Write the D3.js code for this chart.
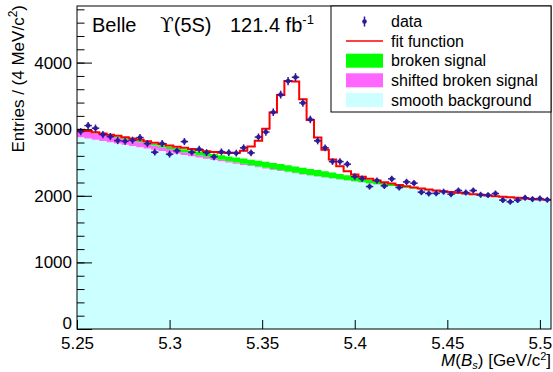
<!DOCTYPE html>
<html>
<head>
<meta charset="utf-8">
<script src="https://cdn.jsdelivr.net/npm/d3@7"></script>
<style>
  body { margin: 0; background: #fff; }
  text { font-family: "Liberation Sans", Arial, Helvetica, sans-serif; }
</style>
</head>
<body>
<svg id="chart" width="553" height="372"></svg>
<script>
// binning of the M(Bs) histogram: 64 bins of 4 MeV starting at 5.25
const massLow = 5.25
const binWidth = 0.004

// entries per bin
const dataCounts = [
  2964, 3054, 3015, 2919, 2889, 2829, 2820, 2835, 2874, 2784,
  2655, 2784, 2625, 2675, 2814, 2655, 2700, 2649, 2585, 2660,
  2649, 2640, 2720, 2645, 2882, 2958, 3255, 3519, 3722, 3780,
  3395, 3147, 2826, 2720, 2514, 2514, 2475, 2289, 2259, 2139,
  2229, 2149, 2254, 2124, 2209, 2190, 2055, 2035, 2037, 2062,
  2025, 2079, 2049, 2079, 2015, 2010, 2034, 1935, 1910, 1935,
  1970, 1950, 1959, 1940
]

// total fit (red histogram)
const fitValues = [
  2990, 2972, 2954, 2936, 2918, 2900, 2880, 2860, 2840, 2818,
  2797, 2777, 2757, 2738, 2720, 2703, 2686, 2670, 2656, 2646,
  2642, 2648, 2675, 2740, 2825, 3005, 3250, 3515, 3725, 3715,
  3450, 3140, 2875, 2690, 2545, 2445, 2370, 2320, 2285, 2255,
  2230, 2205, 2183, 2162, 2143, 2126, 2110, 2095, 2081, 2068,
  2056, 2045, 2034, 2024, 2014, 2004, 1995, 1986, 1977, 1969,
  1961, 1953, 1946, 1939
]

// stacked components
const smoothBkg = [
  2880, 2861, 2842, 2823, 2804, 2785, 2766, 2747, 2728, 2709,
  2690, 2671, 2652, 2633, 2614, 2595, 2576, 2557, 2538, 2519,
  2500, 2482, 2464, 2446, 2428, 2410, 2392, 2374, 2356, 2338,
  2320, 2305, 2290, 2275, 2260, 2245, 2230, 2215, 2200, 2185,
  2170, 2158, 2146, 2134, 2121, 2109, 2097, 2084, 2072, 2060,
  2048, 2039, 2031, 2022, 2014, 2005, 1997, 1988, 1980, 1971,
  1963, 1955, 1946, 1938
]
const shiftedBroken = [
  105, 102, 99, 96, 92, 88, 84, 80, 75, 70,
  65, 58, 52, 46, 41, 37, 33, 29, 26, 23,
  20, 18, 16, 14, 12, 11, 10, 9, 8, 7,
  6, 5, 5, 4, 4, 3, 3, 3, 2, 2,
  2, 1, 1, 1, 1, 1, 1, 1, 1, 1,
  1, 1, 1, 1, 0, 0, 0, 0, 0, 0,
  0, 0, 0, 0
]
const brokenSignal = [
  8, 9, 10, 11, 12, 14, 16, 18, 20, 23,
  27, 31, 35, 40, 45, 50, 55, 60, 64, 68,
  72, 76, 80, 83, 86, 89, 91, 93, 94, 95,
  95, 94, 92, 89, 85, 80, 74, 67, 60, 52,
  44, 37, 30, 24, 19, 15, 12, 9, 7, 5,
  4, 3, 2, 2, 1, 1, 1, 0, 0, 0,
  0, 0, 0, 0
]

const xMajorTicks = [5.25, 5.3, 5.35, 5.4, 5.45, 5.5]
const yMajorTicks = [0, 1000, 2000, 3000, 4000]
const legendLabels = ["data", "fit function", "broken signal", "shifted broken signal", "smooth background"]

const svg = d3.select("#chart")
const padL = 77, padR = 551, padT = 6, padB = 329

const x = d3.scaleLinear().domain([5.25, 5.506]).range([padL, padR])
const y = d3.scaleLinear().domain([0, 4850]).range([padB, padT])

const nBins = dataCounts.length
const edge = i => massLow + i * binWidth

// cumulative stack
const stack1 = smoothBkg
const stack2 = smoothBkg.map((v, i) => v + shiftedBroken[i])
const stack3 = stack2.map((v, i) => v + brokenSignal[i])

function stepPoints(lo, hi){
  const pts = []
  for (let i = 0; i <= nBins; i++){
    const k = Math.min(i, nBins - 1)
    pts.push({m: edge(i), lo: lo ? lo[k] : 0, hi: hi[k]})
  }
  return pts
}

const area = d3.area()
  .curve(d3.curveStepAfter)
  .x(d => x(d.m))
  .y0(d => y(d.lo))
  .y1(d => y(d.hi))

svg.append("path").attr("d", area(stepPoints(null, stack1))).attr("fill", "#ccffff")
svg.append("path").attr("d", area(stepPoints(stack1, stack2))).attr("fill", "#ff66ff")
svg.append("path").attr("d", area(stepPoints(stack2, stack3))).attr("fill", "#00ff00")

// fit histogram
const fitLine = d3.line()
  .curve(d3.curveStepAfter)
  .x(d => x(d.m))
  .y(d => y(d.hi))
svg.append("path")
  .attr("d", fitLine(stepPoints(null, fitValues)))
  .attr("fill", "none")
  .attr("stroke", "#ff0000")
  .attr("stroke-width", 2)

// data points with errors
const markerColor = "#2e1a99"
const pts = svg.append("g")
dataCounts.forEach((n, i) => {
  const cx = x(edge(i) + binWidth / 2)
  const cy = y(n)
  const err = Math.sqrt(n)
  pts.append("line")
    .attr("x1", x(edge(i))).attr("x2", x(edge(i + 1)))
    .attr("y1", cy).attr("y2", cy)
    .attr("stroke", markerColor).attr("stroke-width", 1.5)
  pts.append("line")
    .attr("x1", cx).attr("x2", cx)
    .attr("y1", y(n - err)).attr("y2", y(n + err))
    .attr("stroke", markerColor).attr("stroke-width", 1.5)
  pts.append("circle")
    .attr("cx", cx).attr("cy", cy).attr("r", 2.3)
    .attr("fill", markerColor)
})

// axes
const xMinor = d3.range(25, 51).map(v => v / 100)
const yMinor = d3.range(0, 4850, 200)

const xAxis = svg.append("g").attr("transform", `translate(0,${padB})`)
xAxis.call(d3.axisBottom(x).tickValues(xMinor).tickSize(-4.5).tickFormat(""))
xAxis.append("g").call(d3.axisBottom(x).tickValues(xMajorTicks).tickSize(-9).tickPadding(8)
  .tickFormat(d => String(d)))

const yAxis = svg.append("g").attr("transform", `translate(${padL},0)`)
yAxis.call(d3.axisLeft(y).tickValues(yMinor).tickSize(-7.5).tickFormat(""))
yAxis.append("g").call(d3.axisLeft(y).tickValues(yMajorTicks).tickSize(-15).tickPadding(5)
  .tickFormat(d => String(d)))

svg.selectAll(".domain").remove()
svg.selectAll(".tick line").attr("stroke", "#000")
svg.selectAll(".tick text").attr("font-size", 17).attr("fill", "#000")
  .style("font-family", '"Liberation Sans", Arial, sans-serif')
// ROOT lifts the zero label off the corner
yAxis.selectAll(".tick text").filter(d => d === 0).attr("dy", "-0.05em")

// frame
svg.append("rect")
  .attr("x", padL).attr("y", padT)
  .attr("width", padR - padL).attr("height", padB - padT)
  .attr("fill", "none").attr("stroke", "#000")

// axis titles
const xt = svg.append("text")
  .attr("x", padR).attr("y", 366)
  .attr("text-anchor", "end").attr("font-size", 17)
xt.append("tspan").attr("font-style", "italic").text("M")
xt.append("tspan").text("(")
xt.append("tspan").attr("font-style", "italic").text("B")
xt.append("tspan").attr("font-style", "italic").attr("font-size", 11).attr("dy", 3).text("s")
xt.append("tspan").attr("dy", -3).text(") [GeV/c")
xt.append("tspan").attr("font-size", 11).attr("dy", -6).text("2")
xt.append("tspan").attr("dy", 6).text("]")

const yt = svg.append("text")
  .attr("transform", "translate(24,5) rotate(-90)")
  .attr("text-anchor", "end").attr("font-size", 17)
yt.append("tspan").text("Entries / (4 MeV/c")
yt.append("tspan").attr("font-size", 12).attr("dy", -7).text("2")
yt.append("tspan").attr("dy", 7).text(")")

// header
const header = svg.append("g").attr("font-size", 20)
header.append("text").attr("x", 92).attr("y", 32).text("Belle")
header.append("text").attr("x", 160).attr("y", 32)
  .call(t => {
    t.append("tspan").style("font-family", '"DejaVu Serif", "Liberation Serif", serif').text("ϒ")
    t.append("tspan").text("(5S)")
  })
header.append("text").attr("x", 230).attr("y", 32)
  .call(t => {
    t.append("tspan").text("121.4 fb")
    t.append("tspan").attr("font-size", 13).attr("dy", -8).text("-1")
  })

// legend
const legend = svg.append("g")
legend.append("rect")
  .attr("x", 331).attr("y", padT).attr("width", padR - 331).attr("height", 106)
  .attr("fill", "#fff").attr("stroke", "#000")
const rowY = i => 21.5 + i * 19.6
legendLabels.forEach((label, i) => {
  legend.append("text")
    .attr("x", 391).attr("y", rowY(i)).attr("dy", "0.35em")
    .attr("font-size", 16).text(label)
})
// data symbol
legend.append("line").attr("x1", 364.5).attr("x2", 364.5).attr("y1", rowY(0) - 5).attr("y2", rowY(0) + 5)
  .attr("stroke", markerColor).attr("stroke-width", 1.5)
legend.append("circle").attr("cx", 364.5).attr("cy", rowY(0)).attr("r", 2.3).attr("fill", markerColor)
// fit line
legend.append("line").attr("x1", 346).attr("x2", 383).attr("y1", rowY(1)).attr("y2", rowY(1))
  .attr("stroke", "#ff0000").attr("stroke-width", 1.5)
const swatches = ["#00ff00", "#ff66ff", "#ccffff"]
swatches.forEach((c, j) => {
  legend.append("rect")
    .attr("x", 346).attr("y", rowY(j + 2) - 7).attr("width", 37).attr("height", 14)
    .attr("fill", c)
})
</script>
</body>
</html>
